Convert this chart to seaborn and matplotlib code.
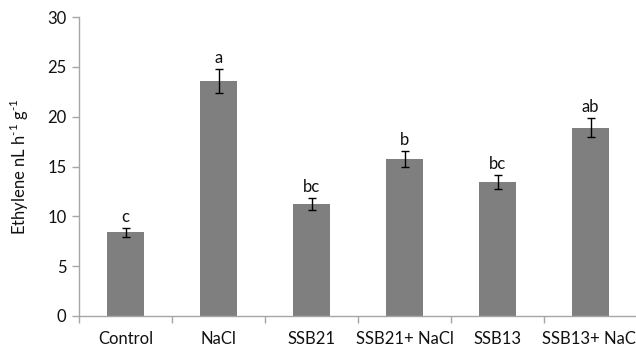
import matplotlib
matplotlib.use("Agg")
import matplotlib.pyplot as plt
import seaborn as sns
import pandas as pd

categories = ["Control", "NaCl", "SSB21", "SSB21+ NaCl", "SSB13", "SSB13+ NaCl"]
ethylene = [8.4, 23.6, 11.2, 15.75, 13.4, 18.9]
errors = [0.45, 1.2, 0.6, 0.8, 0.7, 0.95]
letters = ["c", "a", "bc", "b", "bc", "ab"]
yticks = [0, 5, 10, 15, 20, 25, 30]

sns.set_style("white")
plt.rcParams['font.family'] = ['Lato', 'DejaVu Sans']
plt.rcParams['mathtext.fontset'] = 'custom'
plt.rcParams['mathtext.rm'] = 'Lato'

df = pd.DataFrame({"cat": categories, "val": ethylene})

fig = plt.figure(figsize=(6.36, 3.54), dpi=100)
ax = fig.add_axes([79/636, 1-316/354, 558/636, (316-17)/354])

sns.barplot(data=df, x="cat", y="val", order=categories, color="#7f7f7f",
            saturation=1, width=0.4, errorbar=None, ax=ax, edgecolor="none")
xs = list(range(len(categories)))
ax.errorbar(xs, ethylene, yerr=errors, fmt="none", ecolor="black",
            elinewidth=1.0, capsize=3.2, capthick=1.0)
for x, v, e, l in zip(xs, ethylene, errors, letters):
    ax.text(x, v + e + 0.3, l, ha="center", va="bottom", fontsize=12, color="#111111")

ax.set_ylim(0, 30)
ax.set_xlim(-0.5, 5.5)
ax.set_yticks(yticks)
ax.set_yticklabels([str(t) for t in yticks], fontsize=12, color="#111111")
ax.set_xticks(xs)
ax.set_xticklabels(categories, fontsize=12, color="#111111")
ax.set_xticks([i + 0.5 for i in range(-1, 6)], minor=True)
ax.tick_params(axis="x", which="major", length=0, pad=11)
ax.tick_params(axis="x", which="minor", length=5, color="#a6a6a6", width=1, direction="out", bottom=True)
ax.tick_params(axis="y", length=5, color="#a6a6a6", width=1, direction="out", left=True, pad=4)
ax.set_xlabel("")
ax.set_ylabel("Ethylene nL h$^{\\mathrm{\\text{-}1}}$ g$^{\\mathrm{\\text{-}1}}$", fontsize=12,
              labelpad=12, color="#111111")
for s in ["top", "right"]:
    ax.spines[s].set_visible(False)
for s in ["left", "bottom"]:
    ax.spines[s].set_color("#a6a6a6")
    ax.spines[s].set_linewidth(1)

fig.savefig("out.png", dpi=100)
